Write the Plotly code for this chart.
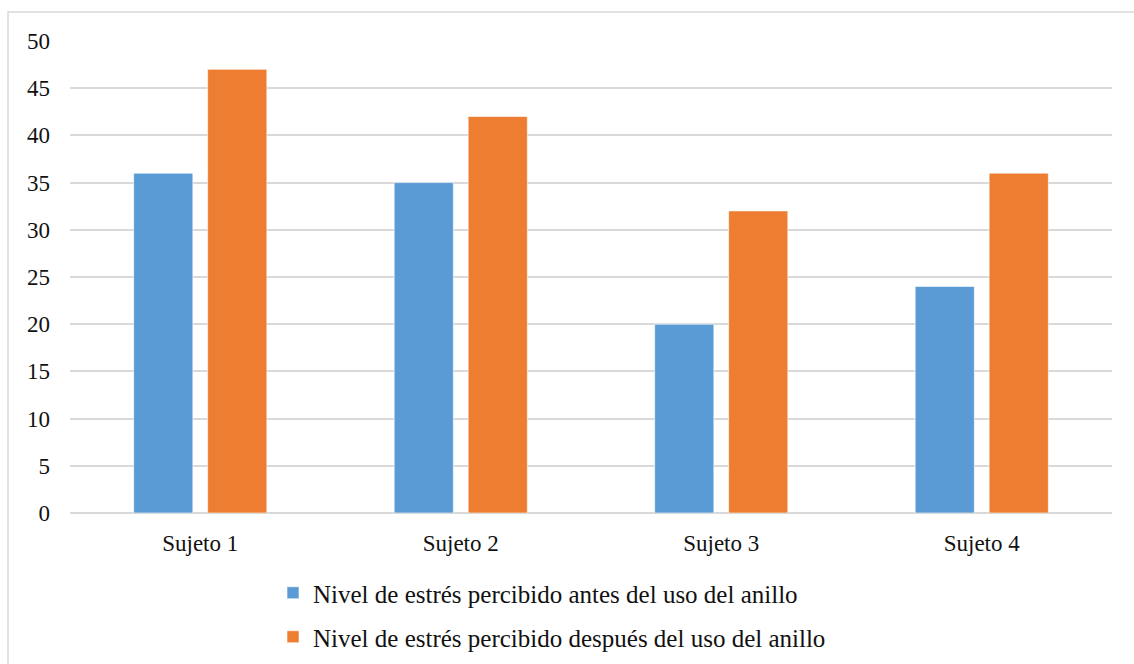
import plotly.graph_objects as go

categories = ["Sujeto 1", "Sujeto 2", "Sujeto 3", "Sujeto 4"]
antes = [36, 35, 20, 24]
despues = [47, 42, 32, 36]
series_names = [
    "Nivel de estrés percibido antes del uso del anillo",
    "Nivel de estrés percibido después del uso del anillo",
]
y_ticks = [0, 5, 10, 15, 20, 25, 30, 35, 40, 45, 50]

W, H = 1134, 664
L, R, T, B = 70, 22, 41, 151
plot_w = W - L - R
plot_h = H - T - B


def px_x(x):
    return (x - L) / plot_w


def px_y(y):
    return (H - B - y) / plot_h


font_family = "Liberation Serif"
text_color = "#111111"

fig = go.Figure()
fig.add_trace(go.Bar(
    x=categories, y=antes, name=series_names[0],
    marker=dict(color="#5B9BD5", line=dict(color="#ffffff", width=0.6)),
    legend="legend",
))
fig.add_trace(go.Bar(
    x=categories, y=despues, name=series_names[1],
    marker=dict(color="#ED7D31", line=dict(color="#ffffff", width=0.6)),
    legend="legend2",
))

legend_common = dict(
    orientation="v", xanchor="left", yanchor="middle",
    bgcolor="rgba(0,0,0,0)", borderwidth=0,
    font=dict(family=font_family, size=25, color=text_color),
    itemclick=False, itemdoubleclick=False,
)

fig.update_layout(
    width=W, height=H,
    showlegend=True,
    margin=dict(l=L, r=R, t=T, b=B, pad=0, autoexpand=False),
    paper_bgcolor="#ffffff", plot_bgcolor="#ffffff",
    barmode="group", bargap=0.432, bargroupgap=0.2,
    font=dict(family=font_family, size=23, color=text_color),
    legend=dict(x=px_x(273), y=px_y(593), **legend_common),
    legend2=dict(x=px_x(273), y=px_y(637), **legend_common),
    xaxis=dict(
        showgrid=False, showline=False, zeroline=False,
        ticks="", ticklabelstandoff=14,
        tickfont=dict(family=font_family, size=23, color=text_color),
    ),
    yaxis=dict(
        range=[0, 50], tickvals=y_ticks,
        showgrid=True, gridcolor="#d9d9d9", gridwidth=1.5,
        zeroline=True, zerolinecolor="#d9d9d9", zerolinewidth=1.5,
        showline=False, ticks="", ticklabelstandoff=19,
        tickfont=dict(family=font_family, size=23, color=text_color),
    ),
    shapes=[dict(
        type="rect", xref="paper", yref="paper",
        x0=px_x(8), x1=px_x(W + 20), y0=px_y(H + 20), y1=px_y(12),
        line=dict(color="#d9d9d9", width=1.5), fillcolor="rgba(0,0,0,0)",
        layer="below",
    )],
)

fig.write_html("out.html")
